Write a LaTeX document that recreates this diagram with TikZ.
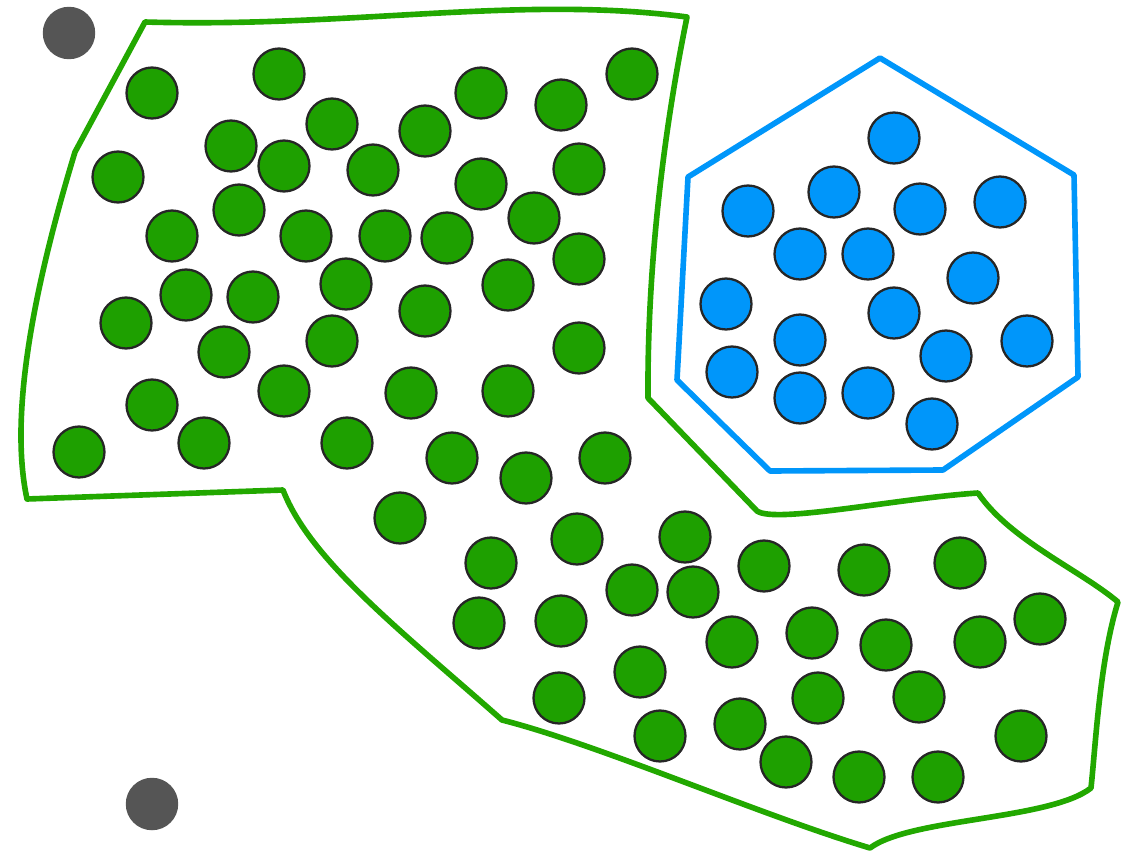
\documentclass[tikz,border=0pt]{standalone}
\usetikzlibrary{positioning}
\definecolor{leaf}{RGB}{30,160,0}
\definecolor{leafline}{RGB}{34,168,0}
\definecolor{sky}{RGB}{0,150,250}
\definecolor{ash}{RGB}{85,85,85}

\begin{document}
\begin{tikzpicture}[x=0.02cm,y=-0.02cm]
  \tikzstyle{ball}=[circle,draw=black!85,line width=1.3pt,minimum size=1.02cm,inner sep=0pt]
  \tikzstyle{rim}=[line width=3.2pt,line join=round]
  \useasboundingbox (0,0) rectangle (1123,852);
  % outline of the green group
  \draw[rim,leafline] (145,22) .. controls (350,28) and (520,-5) .. (687,17)
    .. controls (668,110) and (647,250) .. (648,398)
    -- (757,511) .. controls (775,524) and (900,498) .. (978,493)
    .. controls (1010,540) and (1080,570) .. (1118,602)
    .. controls (1100,660) and (1096,740) .. (1091,788)
    .. controls (1050,820) and (910,818) .. (870,848)
    .. controls (760,815) and (600,745) .. (502,720)
    .. controls (400,630) and (310,560) .. (283,490)
    -- (27,499) .. controls (10,420) and (30,300) .. (75,152)
    -- cycle;
  % outline of the blue group
  \draw[rim,sky] (880,58) -- (1074,175) -- (1078,377) -- (943,470)
    -- (770,471) -- (677,380) -- (688,177) -- cycle;
  % green circles
  \foreach \p [count=\i] in {(152,93),(279,74),(632,74),(481,93),(561,105),
      (332,124),(231,146),(425,131),(118,177),(284,166),(373,170),(481,184),
      (579,169),(239,210),(534,218),(172,236),(306,236),(385,236),(447,238),
      (579,259),(186,295),(253,297),(346,284),(508,285),(126,323),(425,311),
      (224,352),(332,341),(579,348),(152,405),(284,391),(411,393),(508,391),
      (79,452),(204,443),(347,443),(452,458),(526,478),(605,458),(400,518),
      (491,563),(577,539),(685,537),(764,566),(864,570),(960,563),(479,623),
      (561,621),(632,590),(693,592),(732,642),(812,633),(886,645),(980,642),
      (1040,619),(559,698),(640,672),(818,698),(919,697),(660,736),(740,724),
      (786,762),(859,777),(938,777),(1021,736)}
    \node[ball,fill=leaf] (g\i) at \p {};
  % blue circles
  \foreach \p [count=\i] in {(894,138),(748,211),(834,192),(920,209),(1000,202),
      (800,254),(868,254),(973,278),(726,304),(894,313),(800,340),(946,356),
      (1027,341),(732,372),(800,398),(868,393),(932,424)}
    \node[ball,fill=sky] (b\i) at \p {};
  % grey circles outside
  \node[circle,fill=ash,minimum size=1.05cm,inner sep=0pt] (k1) at (69,33) {};
  \node[circle,fill=ash,minimum size=1.05cm,inner sep=0pt] (k2) at (152,804) {};
\end{tikzpicture}
\end{document}
